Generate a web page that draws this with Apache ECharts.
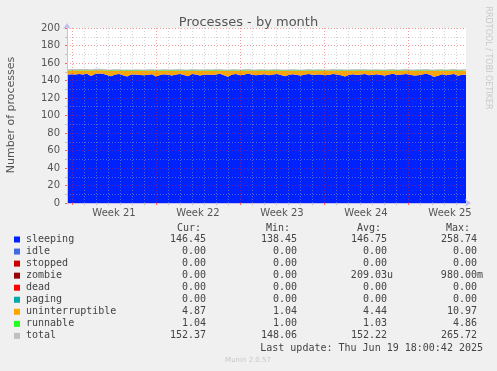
<!DOCTYPE html>
<html><head><meta charset="utf-8">
<script src="https://cdn.jsdelivr.net/npm/echarts@6/dist/echarts.min.js"></script>
<style>html,body{margin:0;padding:0;background:#f0f0f0;}#c{width:497px;height:371px;}</style>
</head><body><div id="c"></div>
<script>
// ---- data ----
var weekLabels = ['Week 21','Week 22','Week 23','Week 24','Week 25'];
var yTicks = [0,20,40,60,80,100,120,140,160,180,200];
var sleeping = [
146.5,147.2,146.8,147.5,146.9,147.8,145.2,147.4,148.1,147.6,
146.4,144.8,146.9,147.3,146.1,144.6,146.8,147.0,146.3,145.9,
146.7,147.2,144.5,146.4,147.1,146.6,145.8,146.9,147.5,146.2,
145.0,147.4,146.8,145.7,146.5,147.0,146.3,146.9,147.6,146.1,
144.4,146.8,147.3,146.0,146.7,147.9,146.5,145.9,146.6,147.2,
146.1,146.9,147.5,146.3,144.8,146.7,147.1,146.4,145.6,146.8,
147.3,146.2,146.9,147.0,145.9,146.5,147.4,146.8,146.1,144.7,
146.6,147.2,146.3,146.9,147.5,146.0,146.7,147.1,146.4,145.8,
146.9,147.6,146.2,146.8,147.3,146.5,145.6,146.1,147.0,147.8,
146.6,144.2,145.4,147.1,146.0,146.8,147.4,145.3,146.7,146.5];
var uninterruptible = [
4.3,4.1,4.6,3.9,4.4,3.8,5.9,4.2,3.6,4.0,
4.7,6.1,4.3,4.0,4.8,6.2,4.2,4.1,4.6,4.9,
4.4,4.0,6.3,4.6,4.1,4.5,5.0,4.3,3.9,4.7,
5.9,4.0,4.4,5.1,4.6,4.2,4.7,4.3,3.8,4.8,
6.4,4.4,4.0,4.9,4.5,3.7,4.6,5.0,4.5,4.1,
4.8,4.3,3.9,4.7,6.1,4.4,4.1,4.6,5.2,4.3,
4.0,4.8,4.3,4.2,5.0,4.6,4.0,4.4,4.9,6.2,
4.5,4.1,4.7,4.3,3.9,4.9,4.4,4.1,4.6,5.1,
4.3,3.8,4.8,4.4,4.0,4.6,5.3,4.9,4.2,3.7,
4.5,6.6,5.7,4.2,5.0,4.4,4.0,5.7,4.4,4.9];
var runnable = [
1.0,1.1,1.0,1.0,1.2,1.0,1.0,1.1,1.0,1.0,
1.0,1.1,1.0,1.0,1.0,1.2,1.0,1.0,1.1,1.0,
1.0,1.0,1.1,1.0,1.0,1.0,1.2,1.0,1.0,1.1,
1.0,1.0,1.0,1.1,1.0,1.0,1.0,1.2,1.0,1.0,
1.1,1.0,1.0,1.0,1.1,1.0,1.0,1.0,1.2,1.0,
1.0,1.1,1.0,1.0,1.0,1.0,1.1,1.0,1.0,1.0,
1.2,1.0,1.0,1.1,1.0,1.0,1.0,1.0,1.1,1.0,
1.0,1.0,1.2,1.0,1.0,1.1,1.0,1.0,1.0,1.0,
1.1,1.0,1.0,1.0,1.2,1.0,1.0,1.1,1.0,1.0,
1.0,1.0,1.1,1.0,1.0,1.0,1.2,1.0,1.0,1.0];

var legendNames = ['sleeping','idle','stopped','zombie','dead','paging','uninterruptible','runnable','total'];
var legendColors = ['#0022ff','#4169e1','#cc0000','#990000','#ff0000','#00aaaa','#ffa500','#22ff22','#c0c0c0'];
var curVals = ['146.45','0.00','0.00','0.00','0.00','0.00','4.87','1.04','152.37'];
var minVals = ['138.45','0.00','0.00','0.00','0.00','0.00','1.04','1.00','148.06'];
var avgVals = ['146.75','0.00','0.00','209.03u','0.00','0.00','4.44','1.03','152.22'];
var maxVals = ['258.74','0.00','0.00','980.00m','0.00','0.00','10.97','4.86','265.72'];
var lastUpdate = 'Last update: Thu Jun 19 18:00:42 2025';

// ---- build ----
var NCAT = 400;
var cats = [];
for (var i = 0; i < NCAT; i++) cats.push(String(i));
function slot(k){ return Math.round(k * (NCAT - 1) / (sleeping.length - 1)); }
function pairs(arr){ return arr.map(function(v,k){ return [slot(k), v]; }); }
var total = sleeping.map(function(v,k){ return v + uninterruptible[k] + runnable[k]; });
var WEEK0 = 5, DAY = 12, WEEK = 84;

var mono = 'DejaVu Sans Mono';
var g = [];
var rowY0 = 239.5, rowH = 12.05;
var colR = [206, 297, 387, 477];
['Cur:','Min:','Avg:','Max:'].forEach(function(h,j){
  var hx = [201, 290, 381, 470][j];
  g.push({type:'text', x:hx, y:228.5, style:{text:h, font:'10px "'+mono+'"', fill:'#444', align:'right', verticalAlign:'middle'}});
});
legendNames.forEach(function(n, r){
  var y = rowY0 + r * rowH;
  g.push({type:'rect', shape:{x:14, y:y-3, width:6, height:6}, style:{fill:legendColors[r]}});
  g.push({type:'text', x:26, y:y, style:{text:n, font:'10px "'+mono+'"', fill:'#444', verticalAlign:'middle'}});
  [curVals, minVals, avgVals, maxVals].forEach(function(arr, j){
    var v = arr[r];
    var xr = colR[j] + (/[um]$/.test(v) ? 6 : 0);
    g.push({type:'text', x:xr, y:y, style:{text:v, font:'10px "'+mono+'"', fill:'#444', align:'right', verticalAlign:'middle'}});
  });
});
g.push({type:'text', x:483, y:348, style:{text:lastUpdate, font:'10px "'+mono+'"', fill:'#444', align:'right', verticalAlign:'middle'}});
g.push({type:'text', x:248, y:360, style:{text:'Munin 2.0.57', font:'7px "DejaVu Sans"', fill:'#c8c8c8', align:'center', verticalAlign:'middle'}});
g.push({type:'text', x:488, y:58, rotation:-Math.PI/2, style:{text:'RRDTOOL / TOBI OETIKER', font:'8px "DejaVu Sans"', fill:'#c8c8c8', align:'center', verticalAlign:'middle'}});
g.push({type:'text', x:11, y:115, rotation:Math.PI/2, style:{text:'Number of processes', font:'11px "DejaVu Sans"', fill:'#555', align:'center', verticalAlign:'middle'}});

var chart = echarts.init(document.getElementById('c'), null, {renderer:'canvas'});
chart.setOption({
  backgroundColor:'#f0f0f0',
  animation:false,
  title:{text:'Processes - by month', left:'center', top:11, textStyle:{fontFamily:'DejaVu Sans', fontSize:13, fontWeight:'normal', color:'#555'}},
  grid:{left:67, right:31, top:28, bottom:168, show:true, backgroundColor:'#ffffff', borderWidth:0},
  xAxis:[{
    type:'category', data:cats, boundaryGap:false, z:5,
    axisLine:{show:true, lineStyle:{color:'#c0c0f0', width:1}, symbol:['none','arrow'], symbolSize:[6,6], symbolOffset:[0,5]},
    axisTick:{show:true, length:2, interval:function(i){return (i-WEEK0)%WEEK===0;}, lineStyle:{color:'#ff6060'}},
    axisLabel:{show:true, interval:function(i){return (i-WEEK0-WEEK/2)%WEEK===0;}, formatter:function(v,i){ return weekLabels[Math.round((Number(v)-WEEK0-WEEK/2)/WEEK)] || ''; }, margin:5, fontFamily:'DejaVu Sans', fontSize:10, color:'#555'},
    splitLine:{show:true, interval:function(i){return (i-WEEK0)%WEEK===0;}, lineStyle:{color:'rgba(235,40,40,0.45)', type:[1,2], width:1}}
  },{
    type:'category', data:cats, boundaryGap:false, z:4, position:'bottom',
    axisLine:{show:false},
    axisTick:{show:true, length:2, interval:function(i){return (i-WEEK0)%DAY===0 && (i-WEEK0)%WEEK!==0;}, lineStyle:{color:'#c0c0c0'}},
    axisLabel:{show:false},
    splitLine:{show:true, interval:function(i){return (i-WEEK0)%DAY===0 && (i-WEEK0)%WEEK!==0;}, lineStyle:{color:'rgba(170,170,170,0.5)', type:[1,2], width:1}}
  }],
  yAxis:{
    type:'value', min:yTicks[0], max:yTicks[yTicks.length-1], interval:20, z:5,
    axisLine:{show:true, lineStyle:{color:'#c0c0f0'}, symbol:['none','arrow'], symbolSize:[6,6], symbolOffset:[0,5]},
    axisTick:{show:true, length:2, lineStyle:{color:'#ff6060'}},
    minorTick:{show:true, splitNumber:2, length:2, lineStyle:{color:'#c0c0c0'}},
    axisLabel:{margin:7, fontFamily:'DejaVu Sans', fontSize:10, color:'#555'},
    splitLine:{show:true, lineStyle:{color:'rgba(235,40,40,0.45)', type:[1,2], width:1}},
    minorSplitLine:{show:true, lineStyle:{color:'rgba(170,170,170,0.5)', type:[1,2], width:1}}
  },
  graphic:g,
  series:[
    {name:'sleeping', type:'line', stack:'p', data:pairs(sleeping), symbol:'none', lineStyle:{width:0}, areaStyle:{color:'#0022ff', opacity:1}, itemStyle:{color:'#0022ff'}, z:2},
    {name:'uninterruptible', type:'line', stack:'p', data:pairs(uninterruptible), symbol:'none', lineStyle:{width:0}, areaStyle:{color:'#ffa500', opacity:1}, itemStyle:{color:'#ffa500'}, z:2},
    {name:'runnable', type:'line', stack:'p', data:pairs(runnable), symbol:'none', lineStyle:{width:0}, areaStyle:{color:'#22ff22', opacity:1}, itemStyle:{color:'#22ff22'}, z:2},
    {name:'total', type:'line', data:pairs(total), symbol:'none', lineStyle:{width:1.2, color:'#c0c0c0'}, itemStyle:{color:'#c0c0c0'}, z:3}
  ]
});
</script>
</body></html>
